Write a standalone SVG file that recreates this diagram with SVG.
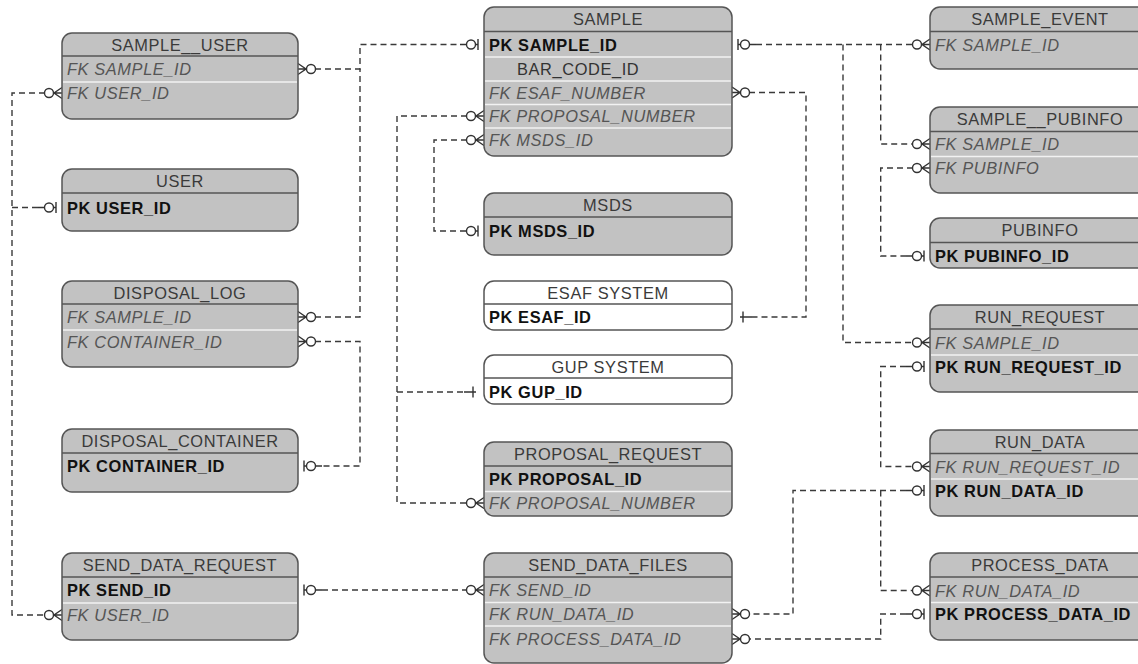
<svg xmlns="http://www.w3.org/2000/svg" xmlns:xlink="http://www.w3.org/1999/xlink" width="1138" height="664" viewBox="0 0 1138 664">
<style>
.box{fill:#c2c2c2;stroke:#555;stroke-width:1.5}
.wbox{fill:#fff;stroke:#555;stroke-width:1.5}
.hl{stroke:#555;stroke-width:1.3}
.sep{stroke:#f2f2f2;stroke-width:1.5}
text{font-family:"Liberation Sans",Arial,sans-serif;font-size:16.4px;letter-spacing:0.6px}
.h{fill:#3a3a3a;text-anchor:middle}
.pk{font-weight:bold;fill:#111}
.fk{font-style:italic;fill:#555}
.at{fill:#333}
.c{fill:none;stroke:#3a3a3a;stroke-width:1.4;stroke-dasharray:6 4}
.m{fill:none;stroke:#333;stroke-width:1.4}
</style>
<defs>
<g id="many"><path class="m" d="M0,-5.5 L-8,0 L0,5.5 M0,0 H-8"/><circle class="m" cx="-13" cy="0" r="4.5" fill="#fff"/></g>
<g id="onez"><path class="m" d="M-6,-5.5 V5.5 M-8.5,0 H-6 M-17.5,0 H-24"/><circle class="m" cx="-13" cy="0" r="4.5" fill="#fff"/></g>
<g id="one"><path class="m" d="M-20,0 H-8 M-11,-5.5 V5.5"/></g>
</defs>
<rect width="1138" height="664" fill="#fff"/>

<g id="connectors">
<path class="c" d="M315 69 H360 V44.5 H460"/>
<path class="c" d="M315 317 H360 V69"/>
<path class="c" d="M315 341.5 H360 V466 H322"/>
<path class="c" d="M45 93 H12 V615 H45"/>
<path class="c" d="M12 207.5 H38"/>
<path class="c" d="M322 590 H467"/>
<path class="c" d="M467 116 H397 V503 H467"/>
<path class="c" d="M397 392 H464"/>
<path class="c" d="M467 140 H434 V231 H460"/>
<path class="c" d="M756 44.5 H913"/>
<path class="c" d="M843 44.5 V342.5 H913"/>
<path class="c" d="M880.7 44.5 V144 H913"/>
<path class="c" d="M749 92.5 H806 V317 H752"/>
<path class="c" d="M913 168 H880.7 V256 H906"/>
<path class="c" d="M906 366.5 H880.7 V466.5 H913"/>
<path class="c" d="M906 490.5 H793 V614 H749"/>
<path class="c" d="M880.7 490.5 V590.5 H913"/>
<path class="c" d="M906 614 H880.7 V639 H749"/>
<use xlink:href="#many" transform="translate(298,69) scale(-1,1)"/>
<use xlink:href="#onez" transform="translate(484,44.5)"/>
<use xlink:href="#many" transform="translate(298,317) scale(-1,1)"/>
<use xlink:href="#many" transform="translate(298,341.5) scale(-1,1)"/>
<use xlink:href="#onez" transform="translate(298,466) scale(-1,1)"/>
<use xlink:href="#many" transform="translate(62,93)"/>
<use xlink:href="#onez" transform="translate(62,207.5)"/>
<use xlink:href="#many" transform="translate(62,615)"/>
<use xlink:href="#onez" transform="translate(298,590) scale(-1,1)"/>
<use xlink:href="#many" transform="translate(484,590)"/>
<use xlink:href="#many" transform="translate(484,116)"/>
<use xlink:href="#many" transform="translate(484,503)"/>
<use xlink:href="#one" transform="translate(484,392)"/>
<use xlink:href="#many" transform="translate(484,140)"/>
<use xlink:href="#onez" transform="translate(484,231)"/>
<use xlink:href="#onez" transform="translate(732,44.5) scale(-1,1)"/>
<use xlink:href="#many" transform="translate(930,44.5)"/>
<use xlink:href="#many" transform="translate(930,342.5)"/>
<use xlink:href="#many" transform="translate(930,144)"/>
<use xlink:href="#many" transform="translate(732,92.5) scale(-1,1)"/>
<use xlink:href="#one" transform="translate(732,317) scale(-1,1)"/>
<use xlink:href="#many" transform="translate(930,168)"/>
<use xlink:href="#onez" transform="translate(930,256)"/>
<use xlink:href="#onez" transform="translate(930,366.5)"/>
<use xlink:href="#many" transform="translate(930,466.5)"/>
<use xlink:href="#onez" transform="translate(930,490.5)"/>
<use xlink:href="#many" transform="translate(732,614) scale(-1,1)"/>
<use xlink:href="#many" transform="translate(930,590.5)"/>
<use xlink:href="#onez" transform="translate(930,614)"/>
<use xlink:href="#many" transform="translate(732,639) scale(-1,1)"/>
</g>

<g id="sample_user">
<rect class="box" x="62" y="33" width="236" height="86" rx="10"/>
<line class="hl" x1="62" y1="56" x2="298" y2="56"/>
<line class="sep" x1="63" y1="82" x2="297" y2="82"/>
<text class="h" x="180" y="50.5">SAMPLE__USER</text>
<text class="fk" x="67" y="75">FK SAMPLE_ID</text>
<text class="fk" x="67" y="99">FK USER_ID</text>
</g>
<g id="user">
<rect class="box" x="62" y="169" width="236" height="62" rx="10"/>
<line class="hl" x1="62" y1="193" x2="298" y2="193"/>
<text class="h" x="180" y="187">USER</text>
<text class="pk" x="67" y="213.5">PK USER_ID</text>
</g>
<g id="disposal_log">
<rect class="box" x="62" y="281" width="236" height="86" rx="10"/>
<line class="hl" x1="62" y1="304" x2="298" y2="304"/>
<line class="sep" x1="63" y1="330" x2="297" y2="330"/>
<text class="h" x="180" y="298.5">DISPOSAL_LOG</text>
<text class="fk" x="67" y="323">FK SAMPLE_ID</text>
<text class="fk" x="67" y="347.5">FK CONTAINER_ID</text>
</g>
<g id="disposal_container">
<rect class="box" x="62" y="429" width="236" height="63" rx="10"/>
<line class="hl" x1="62" y1="453" x2="298" y2="453"/>
<text class="h" x="180" y="447">DISPOSAL_CONTAINER</text>
<text class="pk" x="67" y="472">PK CONTAINER_ID</text>
</g>
<g id="send_data_request">
<rect class="box" x="62" y="553" width="236" height="87" rx="10"/>
<line class="hl" x1="62" y1="577" x2="298" y2="577"/>
<line class="sep" x1="63" y1="603" x2="297" y2="603"/>
<text class="h" x="180" y="571">SEND_DATA_REQUEST</text>
<text class="pk" x="67" y="596">PK SEND_ID</text>
<text class="fk" x="67" y="621">FK USER_ID</text>
</g>

<g id="sample">
<rect class="box" x="484" y="7" width="248" height="149" rx="10"/>
<line class="hl" x1="484" y1="31.5" x2="732" y2="31.5"/>
<line class="sep" x1="485" y1="57" x2="731" y2="57"/>
<line class="sep" x1="485" y1="81" x2="731" y2="81"/>
<line class="sep" x1="485" y1="104.5" x2="731" y2="104.5"/>
<line class="sep" x1="485" y1="128" x2="731" y2="128"/>
<text class="h" x="608" y="25">SAMPLE</text>
<text class="pk" x="489" y="50.5">PK SAMPLE_ID</text>
<text class="at" x="517" y="75">BAR_CODE_ID</text>
<text class="fk" x="489" y="98.5">FK ESAF_NUMBER</text>
<text class="fk" x="489" y="122">FK PROPOSAL_NUMBER</text>
<text class="fk" x="489" y="146">FK MSDS_ID</text>
</g>
<g id="msds">
<rect class="box" x="484" y="193" width="248" height="62" rx="10"/>
<line class="hl" x1="484" y1="217" x2="732" y2="217"/>
<text class="h" x="608" y="211">MSDS</text>
<text class="pk" x="489" y="237">PK MSDS_ID</text>
</g>
<g id="esaf_system">
<rect class="wbox" x="484" y="281" width="248" height="49" rx="10"/>
<line class="hl" x1="484" y1="304" x2="732" y2="304"/>
<text class="h" x="608" y="298.5">ESAF SYSTEM</text>
<text class="pk" x="489" y="323">PK ESAF_ID</text>
</g>
<g id="gup_system">
<rect class="wbox" x="484" y="355" width="248" height="49" rx="10"/>
<line class="hl" x1="484" y1="378" x2="732" y2="378"/>
<text class="h" x="608" y="372.5">GUP SYSTEM</text>
<text class="pk" x="489" y="398">PK GUP_ID</text>
</g>
<g id="proposal_request">
<rect class="box" x="484" y="442" width="248" height="74" rx="10"/>
<line class="hl" x1="484" y1="466" x2="732" y2="466"/>
<line class="sep" x1="485" y1="491.5" x2="731" y2="491.5"/>
<text class="h" x="608" y="460">PROPOSAL_REQUEST</text>
<text class="pk" x="489" y="485">PK PROPOSAL_ID</text>
<text class="fk" x="489" y="509">FK PROPOSAL_NUMBER</text>
</g>
<g id="send_data_files">
<rect class="box" x="484" y="553" width="248" height="110" rx="10"/>
<line class="hl" x1="484" y1="577" x2="732" y2="577"/>
<line class="sep" x1="485" y1="602.5" x2="731" y2="602.5"/>
<line class="sep" x1="485" y1="626" x2="731" y2="626"/>
<text class="h" x="608" y="571">SEND_DATA_FILES</text>
<text class="fk" x="489" y="596">FK SEND_ID</text>
<text class="fk" x="489" y="620">FK RUN_DATA_ID</text>
<text class="fk" x="489" y="644.5">FK PROCESS_DATA_ID</text>
</g>

<g id="sample_event">
<rect class="box" x="930" y="7" width="220" height="62" rx="10"/>
<line class="hl" x1="930" y1="31.5" x2="1150" y2="31.5"/>
<text class="h" x="1040" y="25">SAMPLE_EVENT</text>
<text class="fk" x="935" y="50.5">FK SAMPLE_ID</text>
</g>
<g id="sample_pubinfo">
<rect class="box" x="930" y="107" width="220" height="86" rx="10"/>
<line class="hl" x1="930" y1="131.5" x2="1150" y2="131.5"/>
<line class="sep" x1="931" y1="156.5" x2="1150" y2="156.5"/>
<text class="h" x="1040" y="125">SAMPLE__PUBINFO</text>
<text class="fk" x="935" y="150">FK SAMPLE_ID</text>
<text class="fk" x="935" y="174">FK PUBINFO</text>
</g>
<g id="pubinfo">
<rect class="box" x="930" y="218" width="220" height="50" rx="10"/>
<line class="hl" x1="930" y1="242.5" x2="1150" y2="242.5"/>
<text class="h" x="1040" y="236">PUBINFO</text>
<text class="pk" x="935" y="262">PK PUBINFO_ID</text>
</g>
<g id="run_request">
<rect class="box" x="930" y="305" width="220" height="87" rx="10"/>
<line class="hl" x1="930" y1="329" x2="1150" y2="329"/>
<line class="sep" x1="931" y1="355" x2="1150" y2="355"/>
<text class="h" x="1040" y="323">RUN_REQUEST</text>
<text class="fk" x="935" y="348.5">FK SAMPLE_ID</text>
<text class="pk" x="935" y="372.5">PK RUN_REQUEST_ID</text>
</g>
<g id="run_data">
<rect class="box" x="930" y="430" width="220" height="86" rx="10"/>
<line class="hl" x1="930" y1="453.5" x2="1150" y2="453.5"/>
<line class="sep" x1="931" y1="479" x2="1150" y2="479"/>
<text class="h" x="1040" y="447.5">RUN_DATA</text>
<text class="fk" x="935" y="472.5">FK RUN_REQUEST_ID</text>
<text class="pk" x="935" y="496.5">PK RUN_DATA_ID</text>
</g>
<g id="process_data">
<rect class="box" x="930" y="553" width="220" height="87" rx="10"/>
<line class="hl" x1="930" y1="577" x2="1150" y2="577"/>
<line class="sep" x1="931" y1="602.5" x2="1150" y2="602.5"/>
<text class="h" x="1040" y="571">PROCESS_DATA</text>
<text class="fk" x="935" y="596.5">FK RUN_DATA_ID</text>
<text class="pk" x="935" y="620">PK PROCESS_DATA_ID</text>
</g>
</svg>
